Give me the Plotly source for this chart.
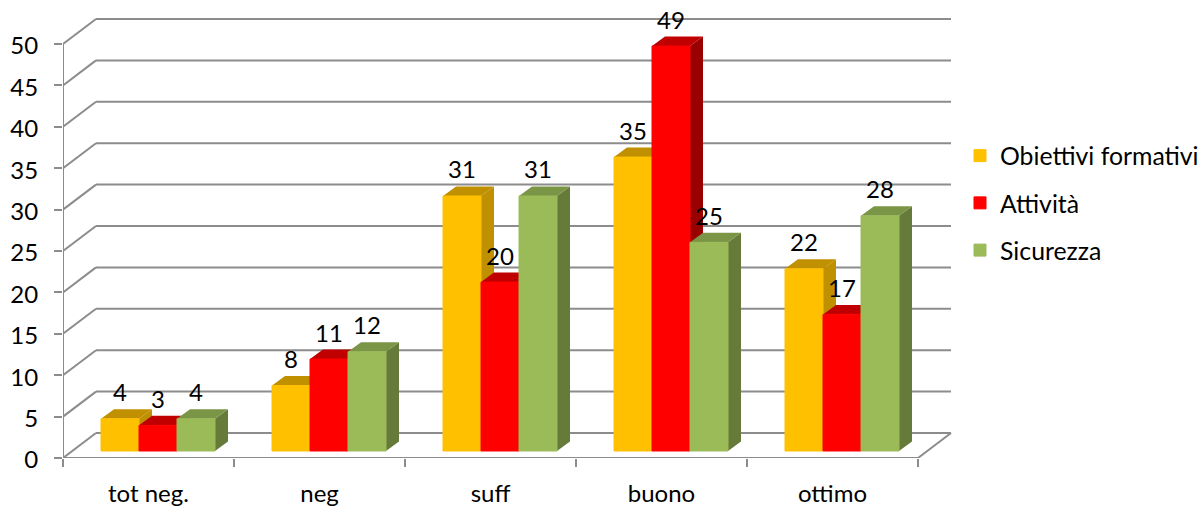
import plotly.graph_objects as go

categories = ["tot neg.", "neg", "suff", "buono", "ottimo"]
series_names = ["Obiettivi formativi", "Attività", "Sicurezza"]
obiettivi = [3.9, 7.9, 30.8, 35.5, 22.0]
attivita = [3.1, 11.1, 20.4, 48.9, 16.5]
sicurezza = [3.9, 12.0, 30.8, 25.2, 28.4]
obiettivi_labels = [4, 8, 31, 35, 22]
attivita_labels = [3, 11, 20, 49, 17]
sicurezza_labels = [4, 12, 31, 25, 28]
y_ticks = list(range(0, 55, 5))

front_colors = ["#FFC000", "#FF0000", "#9BBB59"]
top_colors = ["#C09000", "#C00000", "#7A9546"]
side_colors = ["#BF9000", "#990000", "#667A3A"]
GRID = "#8C8C8C"
FONT = "Lato"
FS = 24
LEGEND_FS = 24.8

# pixel geometry of the plot frame
PX_X0, PX_X1, PX_Y0, PX_Y1 = 63, 952, 458, 18
PX_PER_CAT = 171.0
PX_PER_UNIT = 8.28
W, H = 1200, 506


def ux(px):
    return px / PX_PER_CAT


def uy(px):
    return px / PX_PER_UNIT


WALL_DX, WALL_DY = ux(33), uy(25)
BAR_W = ux(38)
BAR_DX, BAR_DY = ux(13), uy(9.5)
SHIFT_X, BASE_Y = ux(9.5), uy(7)
LABEL_UP = uy(23.5)

values = [obiettivi, attivita, sicurezza]
labels = [obiettivi_labels, attivita_labels, sicurezza_labels]

fig = go.Figure()
shapes = []

# back wall horizontal lines (beneath the bars)
for v in y_ticks:
    shapes.append(dict(type="line", layer="below", xref="x", yref="y",
                       x0=WALL_DX, x1=5 + WALL_DX, y0=v + WALL_DY, y1=v + WALL_DY,
                       line=dict(color=GRID, width=2)))

# frame: left axis, front floor edge, diagonals
fx, fy = [0, 0, None, 0, 5, None, 5, 5 + WALL_DX, None], [0, 50, None, 0, 0, None, 0, WALL_DY, None]
for v in y_ticks:
    fx += [0, WALL_DX, None]
    fy += [v, v + WALL_DY, None]

for s in range(3):
    xs = [i + 0.5 + SHIFT_X + (s - 1) * BAR_W for i in range(5)]
    for xc, v in zip(xs, values[s]):
        l, r = xc - BAR_W / 2, xc + BAR_W / 2
        t, b = BASE_Y + v, BASE_Y
        shapes.append(dict(type="path", layer="below", xref="x", yref="y",
                           path=f"M{r},{b} L{r + BAR_DX},{b + BAR_DY} L{r + BAR_DX},{t + BAR_DY} L{r},{t} Z",
                           fillcolor=side_colors[s], line=dict(width=0)))
        shapes.append(dict(type="path", layer="below", xref="x", yref="y",
                           path=f"M{l},{t} L{l + BAR_DX},{t + BAR_DY} L{r + BAR_DX},{t + BAR_DY} L{r},{t} Z",
                           fillcolor=top_colors[s], line=dict(width=0)))
    fig.add_trace(go.Bar(
        x=xs, y=values[s], base=[BASE_Y] * 5, width=BAR_W, name=series_names[s],
        marker=dict(color=front_colors[s], line=dict(width=1, color=front_colors[s])),
        legendgroup=series_names[s], hoverinfo="skip"))

fig.add_trace(go.Scatter(x=fx, y=fy, mode="lines", line=dict(color=GRID, width=2),
                         showlegend=False, cliponaxis=False, hoverinfo="skip"))

for s in range(3):
    xs = [i + 0.5 + SHIFT_X + (s - 1) * BAR_W for i in range(5)]
    fig.add_trace(go.Scatter(
        x=xs, y=[BASE_Y + v + LABEL_UP for v in values[s]], mode="text",
        text=[str(t) for t in labels[s]], textposition="middle center",
        textfont=dict(family=FONT, size=FS, color="#000000"),
        showlegend=False, cliponaxis=False, hoverinfo="skip"))

fig.update_layout(
    width=W, height=H, autosize=False,
    paper_bgcolor="white", plot_bgcolor="white",
    margin=dict(l=PX_X0, r=W - PX_X1, t=PX_Y1, b=H - PX_Y0, pad=0, autoexpand=False),
    barmode="overlay", shapes=shapes, showlegend=True,
    font=dict(family=FONT, size=FS, color="#000000"),
    legend=dict(x=(960 - PX_X0) / (PX_X1 - PX_X0), xanchor="left",
                y=(PX_Y0 - 203) / (PX_Y0 - PX_Y1), yanchor="middle",
                tracegroupgap=12, bgcolor="rgba(0,0,0,0)",
                font=dict(family=FONT, size=LEGEND_FS, color="#000000")),
    xaxis=dict(range=[0, (PX_X1 - PX_X0) / PX_PER_CAT], tickmode="array",
               tickvals=[i + 0.5 for i in range(5)], ticktext=categories,
               ticks="", showgrid=False, zeroline=False, showline=False,
               automargin=False, ticklabelstandoff=19,
               tickfont=dict(family=FONT, size=FS, color="#000000"),
               minor=dict(tickmode="linear", tick0=0, dtick=1, ticks="outside",
                          ticklen=8, tickwidth=2, tickcolor=GRID, showgrid=False)),
    yaxis=dict(range=[0, (PX_Y0 - PX_Y1) / PX_PER_UNIT], tickmode="array",
               tickvals=y_ticks, ticktext=[str(v) for v in y_ticks],
               ticks="outside", ticklen=8, tickwidth=2, tickcolor=GRID, automargin=False,
               tickfont=dict(family=FONT, size=FS, color="#000000"),
               showgrid=False, zeroline=False, showline=False,
               ticklabelstandoff=11, ticklabelshift=2),
)

fig.write_html(
    "out.html",
    config={"displayModeBar": False},
    post_script="document.body.style.margin='0';document.documentElement.style.overflow='hidden';",
)
